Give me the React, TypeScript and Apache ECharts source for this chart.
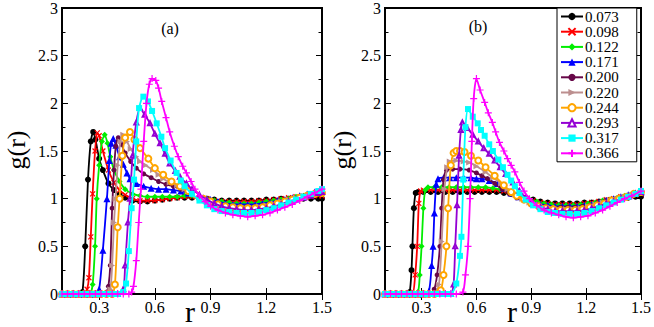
import React, { useEffect, useRef } from "react";
import * as echarts from "echarts";

type Pt = [number, number];

const LABELS = ["0.073", "0.098", "0.122", "0.171", "0.200", "0.220", "0.244", "0.293", "0.317", "0.366"];
const X_TICKS = [0.3, 0.6, 0.9, 1.2, 1.5];
const Y_TICK_STEP = 0.5;

// ---------- panel (a) ----------
const A_073: Pt[] = [[0.10,0],[0.13,0],[0.16,0],[0.19,0],[0.21,0.02],[0.225,0.5],[0.24,1.2],[0.255,1.6],[0.268,1.70],[0.28,1.62],[0.30,1.42],[0.32,1.30],[0.35,1.16],[0.38,1.09],[0.41,1.04],[0.44,1.01],[0.48,0.98],[0.52,0.97],[0.56,0.97],[0.60,0.98],[0.64,0.99],[0.68,1.0],[0.72,1.01],[0.76,1.01],[0.80,1.01],[0.84,1.0],[0.88,1.0],[0.92,0.99],[0.96,0.98],[1.00,0.98],[1.04,0.98],[1.08,0.98],[1.12,0.98],[1.16,0.98],[1.20,0.99],[1.24,0.99],[1.28,1.0],[1.32,1.0],[1.36,1.0],[1.40,1.0],[1.44,1.0],[1.48,1.0],[1.50,1.0]];
const A_098: Pt[] = [[0.10,0],[0.13,0],[0.16,0],[0.19,0],[0.22,0],[0.235,0.05],[0.245,0.17],[0.255,0.6],[0.265,1.05],[0.278,1.5],[0.29,1.69],[0.30,1.66],[0.32,1.50],[0.35,1.30],[0.38,1.17],[0.41,1.09],[0.44,1.04],[0.48,1.0],[0.52,0.98],[0.56,0.98],[0.60,0.98],[0.64,0.99],[0.68,1.0],[0.72,1.01],[0.76,1.02],[0.80,1.02],[0.84,1.01],[0.88,1.0],[0.92,0.98],[0.96,0.97],[1.00,0.97],[1.04,0.97],[1.08,0.97],[1.12,0.97],[1.16,0.98],[1.20,0.98],[1.24,0.99],[1.28,1.0],[1.32,1.01],[1.36,1.02],[1.40,1.02],[1.44,1.03],[1.48,1.03],[1.50,1.03]];
const A_122: Pt[] = [[0.10,0],[0.13,0],[0.16,0],[0.19,0],[0.22,0],[0.25,0],[0.265,0.1],[0.278,0.5],[0.287,1.0],[0.30,1.35],[0.315,1.6],[0.33,1.67],[0.345,1.58],[0.36,1.44],[0.38,1.30],[0.41,1.18],[0.44,1.10],[0.48,1.05],[0.52,1.03],[0.56,1.02],[0.60,1.02],[0.64,1.02],[0.68,1.02],[0.72,1.02],[0.76,1.03],[0.80,1.03],[0.84,1.02],[0.88,1.0],[0.92,0.98],[0.96,0.97],[1.0,0.96],[1.04,0.95],[1.08,0.95],[1.12,0.95],[1.16,0.96],[1.2,0.97],[1.24,0.98],[1.28,0.99],[1.32,1.0],[1.36,1.02],[1.4,1.03],[1.44,1.04],[1.48,1.05],[1.5,1.05]];
const A_171: Pt[] = [[0.10,0],[0.13,0],[0.16,0],[0.19,0],[0.22,0],[0.25,0],[0.28,0],[0.30,0.05],[0.32,0.46],[0.342,1.0],[0.355,1.4],[0.365,1.58],[0.376,1.63],[0.39,1.56],[0.41,1.44],[0.43,1.36],[0.45,1.27],[0.466,1.21],[0.50,1.16],[0.54,1.13],[0.58,1.11],[0.62,1.10],[0.66,1.10],[0.70,1.09],[0.74,1.08],[0.78,1.06],[0.82,1.04],[0.86,1.01],[0.90,0.99],[0.94,0.97],[0.98,0.95],[1.02,0.94],[1.06,0.94],[1.10,0.94],[1.14,0.94],[1.18,0.95],[1.22,0.96],[1.26,0.98],[1.30,0.99],[1.34,1.01],[1.38,1.03],[1.42,1.05],[1.46,1.07],[1.50,1.08]];
const A_200: Pt[] = [[0.10,0],[0.13,0],[0.16,0],[0.19,0],[0.22,0],[0.25,0],[0.28,0],[0.31,0],[0.34,0.02],[0.35,0.08],[0.36,0.3],[0.37,0.9],[0.38,1.3],[0.39,1.55],[0.403,1.64],[0.42,1.57],[0.44,1.48],[0.47,1.39],[0.50,1.32],[0.54,1.26],[0.58,1.22],[0.62,1.18],[0.66,1.15],[0.70,1.13],[0.74,1.10],[0.78,1.07],[0.82,1.04],[0.86,1.01],[0.90,0.98],[0.94,0.95],[0.98,0.93],[1.02,0.92],[1.06,0.92],[1.10,0.92],[1.14,0.92],[1.18,0.93],[1.22,0.95],[1.26,0.96],[1.30,0.98],[1.34,1.0],[1.38,1.02],[1.42,1.04],[1.46,1.06],[1.50,1.07]];
const A_220: Pt[] = [[0.10,0],[0.13,0],[0.16,0],[0.19,0],[0.22,0],[0.25,0],[0.28,0],[0.31,0],[0.34,0],[0.36,0.05],[0.37,0.3],[0.38,0.75],[0.388,1.0],[0.40,1.35],[0.415,1.6],[0.43,1.67],[0.45,1.60],[0.47,1.52],[0.50,1.44],[0.52,1.39],[0.55,1.35],[0.59,1.30],[0.62,1.25],[0.645,1.21],[0.68,1.17],[0.72,1.14],[0.76,1.10],[0.80,1.06],[0.84,1.02],[0.88,0.99],[0.92,0.96],[0.96,0.93],[1.0,0.92],[1.04,0.91],[1.08,0.91],[1.12,0.91],[1.16,0.92],[1.20,0.93],[1.24,0.95],[1.28,0.97],[1.32,0.99],[1.36,1.01],[1.40,1.03],[1.44,1.05],[1.48,1.07],[1.50,1.07]];
const A_244: Pt[] = [[0.10,0],[0.13,0],[0.16,0],[0.19,0],[0.22,0],[0.25,0],[0.28,0],[0.31,0],[0.34,0],[0.37,0],[0.385,0.1],[0.40,0.7],[0.41,1.0],[0.425,1.45],[0.44,1.64],[0.466,1.70],[0.49,1.62],[0.52,1.53],[0.565,1.42],[0.60,1.32],[0.645,1.25],[0.69,1.18],[0.735,1.13],[0.78,1.08],[0.82,1.04],[0.86,1.0],[0.90,0.97],[0.94,0.94],[0.98,0.92],[1.02,0.91],[1.06,0.90],[1.10,0.90],[1.14,0.90],[1.18,0.91],[1.22,0.93],[1.26,0.95],[1.30,0.97],[1.34,0.99],[1.38,1.01],[1.42,1.03],[1.46,1.05],[1.50,1.06]];
const A_293: Pt[] = [[0.10,0],[0.13,0],[0.16,0],[0.19,0],[0.22,0],[0.25,0],[0.28,0],[0.31,0],[0.34,0],[0.37,0],[0.40,0],[0.43,0.05],[0.44,0.3],[0.455,0.75],[0.466,1.0],[0.48,1.45],[0.50,1.8],[0.52,1.95],[0.545,1.88],[0.574,1.79],[0.60,1.68],[0.628,1.58],[0.655,1.47],[0.68,1.37],[0.71,1.29],[0.735,1.23],[0.77,1.16],[0.80,1.10],[0.84,1.04],[0.88,0.99],[0.92,0.95],[0.96,0.92],[1.0,0.90],[1.04,0.89],[1.08,0.88],[1.12,0.88],[1.16,0.89],[1.20,0.90],[1.24,0.92],[1.28,0.94],[1.32,0.97],[1.36,0.99],[1.40,1.01],[1.44,1.03],[1.48,1.06],[1.50,1.07]];
const A_317: Pt[] = [[0.10,0],[0.13,0],[0.16,0],[0.19,0],[0.22,0],[0.25,0],[0.28,0],[0.31,0],[0.34,0],[0.37,0],[0.40,0],[0.43,0.02],[0.445,0.11],[0.46,0.45],[0.475,0.9],[0.488,1.2],[0.50,1.6],[0.515,1.95],[0.538,2.07],[0.563,2.02],[0.585,1.92],[0.61,1.79],[0.635,1.65],[0.655,1.53],[0.685,1.40],[0.717,1.27],[0.74,1.19],[0.76,1.13],[0.80,1.05],[0.84,0.98],[0.88,0.93],[0.92,0.89],[0.96,0.87],[1.0,0.86],[1.04,0.85],[1.08,0.85],[1.12,0.85],[1.16,0.86],[1.20,0.88],[1.24,0.90],[1.28,0.93],[1.32,0.96],[1.36,0.99],[1.40,1.02],[1.44,1.05],[1.48,1.08],[1.50,1.10]];
const A_366: Pt[] = [[0.10,0],[0.13,0],[0.16,0],[0.19,0],[0.22,0],[0.25,0],[0.28,0],[0.31,0],[0.34,0],[0.37,0],[0.40,0],[0.43,0],[0.46,0],[0.475,0.02],[0.485,0.08],[0.50,0.35],[0.513,0.75],[0.525,1.1],[0.54,1.6],[0.555,2.0],[0.57,2.2],[0.585,2.26],[0.605,2.24],[0.62,2.16],[0.637,2.02],[0.66,1.85],[0.68,1.70],[0.705,1.55],[0.726,1.44],[0.75,1.34],[0.77,1.27],[0.795,1.18],[0.816,1.10],[0.84,1.03],[0.87,0.97],[0.90,0.92],[0.94,0.88],[0.98,0.85],[1.02,0.83],[1.06,0.82],[1.10,0.81],[1.14,0.82],[1.18,0.83],[1.22,0.85],[1.26,0.88],[1.30,0.91],[1.34,0.94],[1.38,0.98],[1.42,1.02],[1.46,1.06],[1.50,1.10]];

// ---------- panel (b) ----------
const B_073: Pt[] = [[0.10,0],[0.13,0],[0.16,0],[0.19,0],[0.22,0],[0.235,0.02],[0.245,0.25],[0.25,0.5],[0.258,0.9],[0.268,1.06],[0.28,1.07],[0.31,1.07],[0.35,1.07],[0.39,1.07],[0.43,1.07],[0.47,1.07],[0.51,1.07],[0.55,1.07],[0.59,1.07],[0.63,1.07],[0.67,1.07],[0.71,1.07],[0.75,1.06],[0.79,1.05],[0.83,1.03],[0.87,1.01],[0.91,0.99],[0.95,0.97],[0.99,0.96],[1.03,0.95],[1.07,0.95],[1.11,0.95],[1.15,0.95],[1.19,0.96],[1.23,0.96],[1.27,0.97],[1.31,0.98],[1.35,0.99],[1.39,1.0],[1.43,1.01],[1.47,1.02],[1.50,1.02]];
const B_098: Pt[] = [[0.10,0],[0.13,0],[0.16,0],[0.19,0],[0.22,0],[0.25,0],[0.265,0.2],[0.276,0.5],[0.285,0.95],[0.295,1.08],[0.31,1.09],[0.35,1.09],[0.39,1.09],[0.43,1.09],[0.47,1.09],[0.51,1.09],[0.55,1.09],[0.59,1.09],[0.63,1.09],[0.67,1.09],[0.71,1.09],[0.75,1.08],[0.79,1.06],[0.83,1.03],[0.87,1.0],[0.91,0.98],[0.95,0.96],[0.99,0.95],[1.03,0.94],[1.07,0.94],[1.11,0.94],[1.15,0.94],[1.19,0.95],[1.23,0.96],[1.27,0.97],[1.31,0.99],[1.35,1.0],[1.39,1.02],[1.43,1.03],[1.47,1.04],[1.50,1.05]];
const B_122: Pt[] = [[0.10,0],[0.13,0],[0.16,0],[0.19,0],[0.22,0],[0.25,0],[0.28,0.02],[0.29,0.2],[0.30,0.5],[0.31,0.9],[0.32,1.09],[0.335,1.12],[0.37,1.12],[0.41,1.12],[0.45,1.12],[0.49,1.12],[0.53,1.12],[0.57,1.12],[0.61,1.12],[0.65,1.12],[0.69,1.11],[0.73,1.10],[0.77,1.08],[0.81,1.05],[0.85,1.02],[0.89,0.99],[0.93,0.97],[0.97,0.95],[1.01,0.94],[1.05,0.93],[1.09,0.93],[1.13,0.93],[1.17,0.94],[1.21,0.95],[1.25,0.96],[1.29,0.98],[1.33,0.99],[1.37,1.01],[1.41,1.03],[1.45,1.04],[1.50,1.06]];
const B_171: Pt[] = [[0.10,0],[0.13,0],[0.16,0],[0.19,0],[0.22,0],[0.25,0],[0.28,0],[0.31,0],[0.34,0.03],[0.355,0.3],[0.363,0.5],[0.37,0.85],[0.38,1.15],[0.39,1.21],[0.42,1.22],[0.454,1.22],[0.49,1.22],[0.53,1.22],[0.57,1.22],[0.60,1.21],[0.63,1.21],[0.67,1.19],[0.715,1.16],[0.75,1.11],[0.79,1.06],[0.83,1.02],[0.87,0.99],[0.91,0.96],[0.95,0.94],[0.99,0.93],[1.03,0.92],[1.07,0.92],[1.11,0.92],[1.15,0.92],[1.19,0.93],[1.23,0.94],[1.27,0.96],[1.31,0.98],[1.35,1.0],[1.39,1.02],[1.43,1.04],[1.47,1.06],[1.50,1.07]];
const B_200: Pt[] = [[0.10,0],[0.13,0],[0.16,0],[0.19,0],[0.22,0],[0.25,0],[0.28,0],[0.31,0],[0.34,0],[0.369,0.05],[0.385,0.2],[0.40,0.5],[0.41,0.9],[0.42,1.2],[0.436,1.30],[0.47,1.31],[0.51,1.31],[0.56,1.30],[0.60,1.27],[0.63,1.24],[0.66,1.21],[0.70,1.16],[0.74,1.10],[0.78,1.05],[0.82,1.01],[0.86,0.98],[0.90,0.95],[0.94,0.93],[0.98,0.92],[1.02,0.91],[1.06,0.91],[1.10,0.91],[1.14,0.91],[1.18,0.92],[1.22,0.93],[1.26,0.95],[1.30,0.97],[1.34,0.99],[1.38,1.01],[1.42,1.03],[1.46,1.05],[1.50,1.06]];
const B_220: Pt[] = [[0.10,0],[0.13,0],[0.16,0],[0.19,0],[0.22,0],[0.25,0],[0.28,0],[0.31,0],[0.34,0],[0.37,0],[0.395,0.1],[0.41,0.55],[0.425,1.1],[0.44,1.33],[0.454,1.39],[0.49,1.40],[0.53,1.39],[0.56,1.38],[0.60,1.34],[0.65,1.28],[0.69,1.22],[0.735,1.16],[0.77,1.10],[0.81,1.04],[0.85,1.0],[0.89,0.96],[0.93,0.93],[0.97,0.91],[1.01,0.90],[1.05,0.89],[1.09,0.89],[1.13,0.89],[1.17,0.90],[1.21,0.92],[1.25,0.94],[1.29,0.96],[1.33,0.98],[1.37,1.0],[1.41,1.02],[1.45,1.04],[1.50,1.07]];
const B_244: Pt[] = [[0.10,0],[0.13,0],[0.16,0],[0.19,0],[0.22,0],[0.25,0],[0.28,0],[0.31,0],[0.34,0],[0.37,0],[0.405,0.04],[0.42,0.2],[0.436,0.5],[0.445,0.9],[0.46,1.35],[0.475,1.48],[0.49,1.50],[0.51,1.50],[0.535,1.49],[0.57,1.45],[0.61,1.40],[0.65,1.33],[0.70,1.24],[0.75,1.14],[0.79,1.07],[0.82,1.03],[0.86,0.99],[0.90,0.95],[0.94,0.92],[0.98,0.90],[1.02,0.89],[1.06,0.88],[1.10,0.88],[1.14,0.88],[1.18,0.89],[1.22,0.91],[1.26,0.93],[1.30,0.95],[1.34,0.98],[1.38,1.0],[1.42,1.02],[1.46,1.05],[1.50,1.07]];
const B_293: Pt[] = [[0.10,0],[0.13,0],[0.16,0],[0.19,0],[0.22,0],[0.25,0],[0.28,0],[0.31,0],[0.34,0],[0.37,0],[0.40,0],[0.43,0],[0.46,0],[0.475,0.1],[0.484,0.5],[0.494,0.93],[0.505,1.45],[0.515,1.72],[0.523,1.80],[0.55,1.74],[0.58,1.67],[0.61,1.60],[0.64,1.53],[0.67,1.47],[0.70,1.40],[0.73,1.33],[0.76,1.26],[0.80,1.17],[0.835,1.08],[0.87,1.01],[0.91,0.95],[0.95,0.91],[0.99,0.89],[1.03,0.87],[1.07,0.87],[1.11,0.87],[1.15,0.87],[1.19,0.88],[1.23,0.90],[1.27,0.92],[1.31,0.95],[1.35,0.97],[1.39,1.0],[1.43,1.02],[1.47,1.05],[1.50,1.07]];
const B_317: Pt[] = [[0.10,0],[0.13,0],[0.16,0],[0.19,0],[0.22,0],[0.25,0],[0.28,0],[0.31,0],[0.34,0],[0.37,0],[0.40,0],[0.43,0],[0.46,0],[0.49,0.11],[0.51,0.4],[0.518,0.6],[0.528,1.2],[0.54,1.75],[0.554,1.94],[0.58,1.86],[0.607,1.79],[0.625,1.72],[0.645,1.66],[0.67,1.57],[0.69,1.50],[0.72,1.41],[0.745,1.33],[0.77,1.25],[0.79,1.19],[0.81,1.13],[0.835,1.06],[0.87,0.99],[0.91,0.93],[0.95,0.89],[0.99,0.86],[1.03,0.85],[1.07,0.84],[1.11,0.84],[1.15,0.84],[1.19,0.85],[1.23,0.87],[1.27,0.90],[1.31,0.93],[1.35,0.96],[1.39,0.99],[1.43,1.02],[1.47,1.05],[1.50,1.08]];
const B_366: Pt[] = [[0.10,0],[0.13,0],[0.16,0],[0.19,0],[0.22,0],[0.25,0],[0.28,0],[0.31,0],[0.34,0],[0.37,0],[0.40,0],[0.43,0],[0.46,0],[0.49,0],[0.526,0.02],[0.54,0.2],[0.554,0.5],[0.565,1.0],[0.575,1.6],[0.585,2.05],[0.60,2.26],[0.62,2.14],[0.645,2.01],[0.665,1.90],[0.687,1.80],[0.705,1.70],[0.726,1.59],[0.75,1.50],[0.77,1.42],[0.79,1.35],[0.81,1.28],[0.835,1.17],[0.86,1.08],[0.89,1.0],[0.93,0.93],[0.97,0.88],[1.01,0.85],[1.05,0.83],[1.09,0.81],[1.13,0.80],[1.17,0.81],[1.21,0.82],[1.25,0.85],[1.29,0.88],[1.33,0.92],[1.37,0.96],[1.41,1.0],[1.45,1.03],[1.50,1.08]];

const PANEL_A: Pt[][] = [A_073, A_098, A_122, A_171, A_200, A_220, A_244, A_293, A_317, A_366];
const PANEL_B: Pt[][] = [B_073, B_098, B_122, B_171, B_200, B_220, B_244, B_293, B_317, B_366];

const COLORS = ["#000000", "#ff0000", "#00ee00", "#0000ff", "#670748", "#bc8f8f", "#ffa500", "#9400d3", "#00ffff", "#ff00ff"];
const SYMBOLS = [
  "circle",
  "path://M0,0L10,10M10,0L0,10",
  "diamond",
  "triangle",
  "circle",
  "path://M0,0L10,5L0,10Z",
  "emptyCircle",
  "emptyTriangle",
  "rect",
  "path://M5,0L5,10M0,5L10,5",
];
const SYM_SIZE = [6, 5, 6, 7, 5, 6, 6, 4, 6, 7];
const BORDER = [0, 1.2, 0, 0, 0, 0, 1.1, 0.8, 0, 1.2];

const SERIF = "'Liberation Serif', 'DejaVu Serif', serif";

function buildSeries(panel: Pt[][], p: number) {
  return panel.map((data, i) => ({
    type: "line",
    name: LABELS[i],
    xAxisIndex: p * 2,
    yAxisIndex: p * 2,
    data,
    smooth: 0.25,
    symbol: SYMBOLS[i],
    symbolSize: SYM_SIZE[i],
    showSymbol: true,
    showAllSymbol: true,
    z: 2 + i,
    lineStyle: { color: COLORS[i], width: 1.8 },
    itemStyle: {
      color: COLORS[i],
      borderColor: COLORS[i],
      borderWidth: BORDER[i],
    },
    emphasis: { disabled: true },
  }));
}

function axesFor(p: number) {
  const xs = [
    {
      gridIndex: p,
      type: "value",
      min: 0.1,
      max: 1.5,
      position: "bottom",
      axisLine: { show: false },
      splitLine: { show: false },
      axisTick: { show: true, inside: true, length: 6, customValues: X_TICKS, lineStyle: { color: "#000", width: 1 } },
      axisLabel: {
        show: true,
        customValues: X_TICKS,
        formatter: (v: number) => String(+v.toFixed(1)),
        fontFamily: SERIF,
        fontSize: 16,
        color: "#000",
        margin: 5,
      },
    },
    {
      gridIndex: p,
      type: "value",
      min: 0.1,
      max: 1.5,
      position: "top",
      axisLine: { show: false },
      splitLine: { show: false },
      axisTick: { show: true, inside: true, length: 6, customValues: X_TICKS, lineStyle: { color: "#000", width: 1 } },
      axisLabel: { show: false },
    },
  ];
  const yBase = {
    gridIndex: p,
    type: "value",
    min: 0,
    max: 3,
    interval: Y_TICK_STEP,
    axisLine: { show: false },
    splitLine: { show: false },
    minorSplitLine: { show: false },
    axisTick: { show: true, inside: true, length: 6, lineStyle: { color: "#000", width: 1 } },
    minorTick: { show: true, splitNumber: 2, length: 3.5, lineStyle: { color: "#000", width: 1 } },
  };
  const ys = [
    {
      ...yBase,
      position: "left",
      axisLabel: { fontFamily: SERIF, fontSize: 16, color: "#000", margin: 4 },
    },
    { ...yBase, position: "right", axisLabel: { show: false } },
  ];
  return { xs, ys };
}

function txt(text: string, x: number, y: number, size: number, rot = 0) {
  return {
    type: "text",
    x,
    y,
    rotation: rot,
    z: 100,
    style: {
      text,
      x: 0,
      y: 0,
      fill: "#000",
      font: `${size}px ${SERIF}`,
      align: "center",
      verticalAlign: "middle",
    },
  };
}

export default function App() {
  const ref = useRef<HTMLDivElement>(null);
  useEffect(() => {
    if (!ref.current) return;
    const chart = echarts.init(ref.current, undefined, { renderer: "svg" });
    const a = axesFor(0);
    const b = axesFor(1);
    chart.setOption({
      animation: false,
      backgroundColor: "#fff",
      grid: [
        { left: 62, top: 8, width: 260, height: 286, show: true, borderColor: "#000", borderWidth: 2, backgroundColor: "transparent" },
        { left: 385, top: 8, width: 257, height: 286, show: true, borderColor: "#000", borderWidth: 2, backgroundColor: "transparent" },
      ],
      xAxis: [...a.xs, ...b.xs],
      yAxis: [...a.ys, ...b.ys],
      legend: {
        data: LABELS,
        orient: "vertical",
        left: 557,
        top: 8,
        itemWidth: 22,
        itemHeight: 9,
        itemGap: 0.2,
        padding: [1, 18, 1, 3],
        borderColor: "#000",
        borderWidth: 1,
        backgroundColor: "#fff",
        selectedMode: false,
        textStyle: { fontFamily: SERIF, fontSize: 15, color: "#000", padding: [0, 0, 0, -3] },
        z: 50,
      },
      graphic: [
        txt("g(r)", 16, 150, 26, Math.PI / 2),
        txt("g(r)", 342, 150, 26, Math.PI / 2),
        txt("r", 190, 311, 30),
        txt("r", 512, 311, 30),
        txt("(a)", 170, 28, 16),
        txt("(b)", 478, 26, 16),
      ],
      series: [...buildSeries(PANEL_A, 0), ...buildSeries(PANEL_B, 1)],
    });
    return () => chart.dispose();
  }, []);
  return (
    <div
      ref={ref}
      style={{ position: "fixed", left: 0, top: 0, width: 654, height: 327, background: "#fff" }}
    />
  );
}
